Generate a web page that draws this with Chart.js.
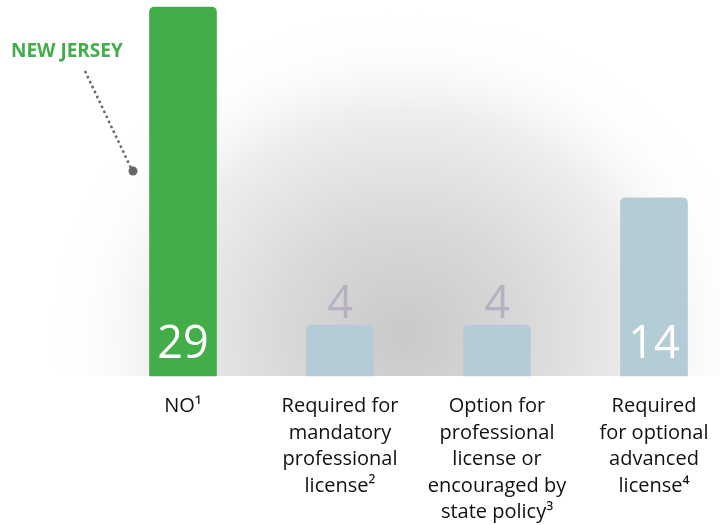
<!DOCTYPE html>
<html>
<head>
<meta charset="utf-8">
<script src="https://cdn.jsdelivr.net/npm/chart.js@4/dist/chart.umd.min.js"></script>
<style>
  html, body { margin: 0; padding: 0; background: #fff; }
  #wrap { width: 720px; height: 525px; }
</style>
</head>
<body>
<div id="wrap"><canvas id="licChart" width="720" height="525"></canvas></div>
<script>
const categories = [
  ['NO\u00B9'],
  ['Required for', 'mandatory', 'professional', 'license\u00B2'],
  ['Option for', 'professional', 'license or', 'encouraged by', 'state policy\u00B3'],
  ['Required', 'for optional', 'advanced', 'license\u2074']
];
const stateCounts = [29, 4, 4, 14];
const calloutText = 'NEW JERSEY';

const GREEN = '#43ad4a';
const BLUE = '#b4ccd5';
const FONT = '"Open Sans", Lato, sans-serif';

// grey shadow behind the bars
const shadowBg = {
  id: 'shadowBg',
  beforeDraw(chart) {
    const c = chart.ctx, a = chart.chartArea;
    c.save();
    c.beginPath();
    c.rect(0, 0, chart.width, a.bottom);
    c.clip();
    const cx = 405, cy = 335;
    c.translate(cx, cy);
    c.scale(1.1, 1);
    const g = c.createRadialGradient(0, 0, 0, 0, 0, 320);
    g.addColorStop(0, '#c9c9c9');
    g.addColorStop(0.35, '#d9d9d9');
    g.addColorStop(0.7, '#eeeeee');
    g.addColorStop(1, 'rgba(255,255,255,0)');
    c.fillStyle = g;
    c.fillRect(-400, -400, 800, 800);
    c.restore();
  }
};

// numbers on / above bars and the New Jersey callout
const barNumbers = {
  id: 'barNumbers',
  afterDatasetsDraw(chart) {
    const c = chart.ctx;
    const meta = chart.getDatasetMeta(0);
    c.save();
    c.font = '400 45px ' + FONT;
    c.textAlign = 'center';
    c.textBaseline = 'alphabetic';
    meta.data.forEach((bar, i) => {
      const v = stateCounts[i];
      if (v > 10) {
        c.fillStyle = '#ffffff';
        c.fillText(String(v), bar.x, bar.base - 18);
      } else {
        c.fillStyle = '#b7b0c1';
        c.fillText(String(v), bar.x, bar.y - 7);
      }
    });

    c.fillStyle = GREEN;
    c.font = 'bold 19px ' + FONT;
    c.textAlign = 'left';
    c.textBaseline = 'middle';
    c.fillText(calloutText, 11, 52);

    c.strokeStyle = '#666';
    c.lineWidth = 2.5;
    c.setLineDash([2.5, 3]);
    c.beginPath();
    c.moveTo(85, 71);
    c.lineTo(131, 168);
    c.stroke();
    c.setLineDash([]);
    c.fillStyle = '#666';
    c.beginPath();
    c.arc(133, 171, 4.5, 0, Math.PI * 2);
    c.fill();
    c.restore();
  }
};

new Chart(document.getElementById('licChart'), {
  type: 'bar',
  data: {
    labels: categories,
    datasets: [{
      data: stateCounts,
      backgroundColor: [GREEN, BLUE, BLUE, BLUE],
      borderRadius: { topLeft: 5, topRight: 5, bottomLeft: 0, bottomRight: 0 },
      borderSkipped: 'start',
      barThickness: 67,
      clip: false
    }]
  },
  options: {
    responsive: false,
    animation: false,
    layout: { padding: { left: 183, right: 66, top: 7, bottom: 0 } },
    plugins: { legend: { display: false }, tooltip: { enabled: false } },
    scales: {
      x: {
        offset: false,
        grid: { display: false },
        border: { display: false },
        ticks: {
          color: '#111',
          font: { family: FONT, size: 20, lineHeight: 1.33 },
          padding: 9,
          maxRotation: 0,
          autoSkip: false
        },
        afterFit(s) { s.height = 525 - 376; }
      },
      y: {
        display: false,
        min: 0,
        max: 29
      }
    }
  },
  plugins: [shadowBg, barNumbers]
});
</script>
</body>
</html>
